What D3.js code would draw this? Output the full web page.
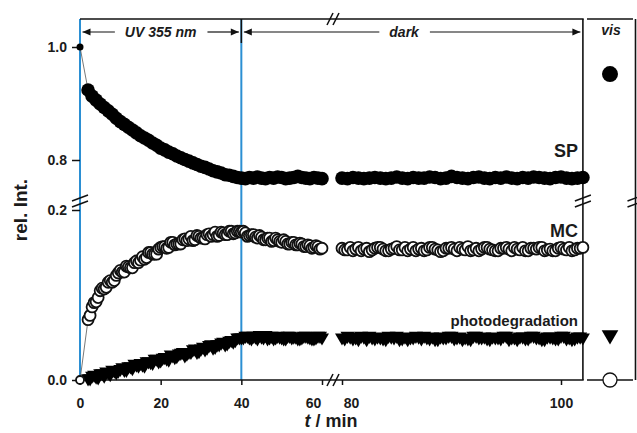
<!DOCTYPE html>
<html>
<head>
<meta charset="utf-8">
<script src="https://cdn.jsdelivr.net/npm/d3@7"></script>
<style>
  body { margin: 0; background: #fff; }
  svg { display: block; }
  text { font-family: "Liberation Sans", Arial, sans-serif; font-weight: bold; fill: #1b1b1b; }
</style>
</head>
<body>
<svg id="chart" width="637" height="433"></svg>
<script>
// time grids (min)
const tUV = [0, 2, 3, 4, 5, 6, 7, 8, 9, 10, 11, 12, 13, 14, 15, 16, 17, 18, 19, 20,
  21, 22, 23, 24, 25, 26, 27, 28, 29, 30, 31, 32, 33, 34, 35, 36, 37, 38, 39, 40];
const tDark1 = [41, 42, 43, 44, 45, 46, 47, 48, 49, 50, 51, 52, 53, 54, 55, 56, 57, 58, 59, 60];
const tDark2 = [80, 80.5, 81, 81.5, 82, 82.5, 83, 83.5, 84, 84.5, 85, 85.5, 86, 86.5, 87, 87.5,
  88, 88.5, 89, 89.5, 90, 90.5, 91, 91.5, 92, 92.5, 93, 93.5, 94, 94.5, 95, 95.5, 96, 96.5,
  97, 97.5, 98, 98.5, 99, 99.5, 100, 100.5, 101, 101.5, 102];
// extra read-outs between the above (MC and photodegradation are sampled denser)
const tUVb = [2.5, 3.5, 4.5, 5.5, 6.5, 7.5, 8.5, 9.5, 10.5, 11.5, 12.5, 13.5, 14.5, 15.5,
  16.5, 17.5, 18.5, 19.5, 20.5, 21.5, 22.5, 23.5, 24.5, 25.5, 26.5, 27.5, 28.5, 29.5,
  30.5, 31.5, 32.5, 33.5, 34.5, 35.5, 36.5, 37.5, 38.5, 39.5];
const tDark1b = [40.5, 41.5, 42.5, 43.5, 44.5, 45.5, 46.5, 47.5, 48.5, 49.5, 50.5, 51.5,
  52.5, 53.5, 54.5, 55.5, 56.5, 57.5, 58.5, 59.5];
const tDark2b = [80.25, 80.75, 81.25, 81.75, 82.25, 82.75, 83.25, 83.75, 84.25, 84.75, 85.25,
  85.75, 86.25, 86.75, 87.25, 87.75, 88.25, 88.75, 89.25, 89.75, 90.25, 90.75, 91.25, 91.75,
  92.25, 92.75, 93.25, 93.75, 94.25, 94.75, 95.25, 95.75, 96.25, 96.75, 97.25, 97.75, 98.25,
  98.75, 99.25, 99.75, 100.25, 100.75, 101.25, 101.75];

// SP (filled circles)
const spUV = [1.000, 0.924, 0.913, 0.906, 0.899, 0.893, 0.887, 0.881, 0.874, 0.868,
  0.863, 0.858, 0.853, 0.848, 0.843, 0.839, 0.835, 0.830, 0.826, 0.821,
  0.818, 0.814, 0.811, 0.807, 0.804, 0.801, 0.798, 0.795, 0.792, 0.789,
  0.787, 0.784, 0.781, 0.779, 0.777, 0.774, 0.773, 0.771, 0.769, 0.768];
const spDark1 = [0.767, 0.769, 0.768, 0.770, 0.768, 0.767, 0.769, 0.768, 0.770, 0.769,
  0.767, 0.768, 0.769, 0.771, 0.769, 0.768, 0.767, 0.769, 0.768, 0.767];
const spDark2 = [0.768, 0.767, 0.769, 0.768, 0.767, 0.768, 0.769, 0.768, 0.767, 0.768,
  0.770, 0.768, 0.767, 0.769, 0.768, 0.768, 0.770, 0.769, 0.767, 0.768,
  0.771, 0.769, 0.768, 0.767, 0.769, 0.770, 0.768, 0.767, 0.769, 0.768,
  0.770, 0.768, 0.767, 0.769, 0.768, 0.770, 0.769, 0.768, 0.767, 0.769,
  0.770, 0.768, 0.767, 0.768, 0.769];

// MC (open circles)
const mcUV = [0.000, 0.071, 0.086, 0.092, 0.105, 0.107, 0.115, 0.115, 0.123, 0.129,
  0.127, 0.133, 0.132, 0.140, 0.141, 0.142, 0.150, 0.148, 0.148, 0.156,
  0.157, 0.156, 0.162, 0.160, 0.160, 0.166, 0.166, 0.164, 0.170, 0.167,
  0.166, 0.172, 0.171, 0.169, 0.174, 0.171, 0.175, 0.172, 0.175, 0.174];
const mcUVb = [0.076, 0.091, 0.097, 0.108, 0.109, 0.117, 0.117, 0.126, 0.127, 0.134,
  0.132, 0.138, 0.138, 0.145, 0.144, 0.150, 0.148, 0.154, 0.157, 0.155,
  0.162, 0.159, 0.160, 0.165, 0.164, 0.169, 0.165, 0.169, 0.167, 0.171,
  0.169, 0.174, 0.170, 0.173, 0.171, 0.175, 0.173, 0.175];
const mcDark1 = [0.173, 0.170, 0.171, 0.167, 0.168, 0.165, 0.167, 0.164, 0.165, 0.162,
  0.163, 0.160, 0.162, 0.159, 0.160, 0.157, 0.158, 0.156, 0.157, 0.155];
const mcDark1b = [0.175, 0.169, 0.171, 0.168, 0.170, 0.165, 0.167, 0.163, 0.167, 0.163,
  0.165, 0.160, 0.162, 0.159, 0.161, 0.157, 0.159, 0.155, 0.158, 0.154];
const mcDark2 = [0.155, 0.153, 0.152, 0.156, 0.154, 0.151, 0.155, 0.156, 0.152, 0.154,
  0.157, 0.153, 0.152, 0.156, 0.154, 0.152, 0.156, 0.154, 0.151, 0.155,
  0.156, 0.152, 0.154, 0.157, 0.153, 0.152, 0.156, 0.154, 0.152, 0.155,
  0.156, 0.152, 0.154, 0.156, 0.152, 0.155, 0.156, 0.152, 0.154, 0.152,
  0.156, 0.153, 0.152, 0.155, 0.156];
const mcDark2b = [0.153, 0.156, 0.154, 0.152, 0.155, 0.153, 0.156, 0.154, 0.152, 0.155,
  0.153, 0.156, 0.154, 0.152, 0.155, 0.153, 0.156, 0.153, 0.152, 0.155,
  0.154, 0.156, 0.153, 0.152, 0.155, 0.154, 0.156, 0.153, 0.152, 0.155,
  0.154, 0.156, 0.153, 0.152, 0.155, 0.154, 0.156, 0.153, 0.152, 0.155,
  0.154, 0.156, 0.153, 0.155];

// photodegradation (down triangles)
const pdUV = [0.000, 0.002, 0.005, 0.004, 0.008, 0.005, 0.009, 0.012, 0.009, 0.013,
  0.012, 0.016, 0.014, 0.018, 0.020, 0.017, 0.022, 0.020, 0.025, 0.023,
  0.027, 0.024, 0.029, 0.028, 0.032, 0.029, 0.033, 0.036, 0.033, 0.037,
  0.036, 0.041, 0.038, 0.042, 0.044, 0.042, 0.046, 0.045, 0.050, 0.050];
const pdUVb = [0.002, 0.006, 0.003, 0.008, 0.010, 0.007, 0.011, 0.011, 0.015, 0.012,
  0.016, 0.019, 0.017, 0.018, 0.022, 0.021, 0.025, 0.022, 0.026, 0.025,
  0.030, 0.027, 0.031, 0.033, 0.031, 0.033, 0.037, 0.034, 0.039, 0.038,
  0.042, 0.039, 0.042, 0.045, 0.043, 0.047, 0.047, 0.050];
const pdDark1 = [0.052, 0.050, 0.052, 0.049, 0.051, 0.053, 0.050, 0.049, 0.052, 0.050,
  0.049, 0.052, 0.051, 0.049, 0.050, 0.052, 0.050, 0.049, 0.052, 0.050];
const pdDark1b = [0.050, 0.052, 0.049, 0.051, 0.053, 0.050, 0.049, 0.052, 0.050, 0.051,
  0.049, 0.052, 0.050, 0.051, 0.049, 0.052, 0.051, 0.049, 0.050, 0.052];
const pdDark2 = [0.050, 0.052, 0.049, 0.048, 0.051, 0.052, 0.049, 0.050, 0.048, 0.051,
  0.052, 0.049, 0.048, 0.050, 0.051, 0.052, 0.049, 0.048, 0.051, 0.050,
  0.052, 0.050, 0.048, 0.049, 0.052, 0.050, 0.051, 0.048, 0.050, 0.049,
  0.052, 0.050, 0.048, 0.051, 0.049, 0.052, 0.050, 0.048, 0.051, 0.049,
  0.052, 0.049, 0.048, 0.051, 0.050];
const pdDark2b = [0.049, 0.051, 0.050, 0.052, 0.048, 0.050, 0.051, 0.049, 0.052, 0.050,
  0.048, 0.051, 0.050, 0.052, 0.049, 0.050, 0.051, 0.048, 0.050, 0.052,
  0.049, 0.051, 0.050, 0.048, 0.052, 0.050, 0.049, 0.051, 0.050, 0.052,
  0.048, 0.050, 0.051, 0.049, 0.052, 0.050, 0.048, 0.051, 0.050, 0.049,
  0.052, 0.050, 0.049, 0.051];

// after "vis" irradiation
const visSP = 0.952, visMC = 0.000, visPD = 0.053;

const xTicksLeft = [0, 20, 40, 60], xTicksRight = [80, 100];
const yTicksTop = [0.8, 1.0], yTicksBottom = [0.0, 0.2];
const phases = [
  {label: "UV 355 nm", from: 0, to: 40},
  {label: "dark", from: 40, to: 102}
];

const svg = d3.select("#chart");
const blue = "#2b8fd3";

// broken x axis: 0-60 and 80-102
const xL = d3.scaleLinear().domain([0, 60]).range([80, 322]);
const xR = d3.scaleLinear().domain([80, 100]).range([342, 561]);
const x = t => t < 70 ? xL(t) : xR(t);
// broken y axis
const yTop = d3.scaleLinear().domain([0.8, 1.0]).range([160, 47]);
const yBot = d3.scaleLinear().domain([0, 0.2]).range([380, 210]);

const plotL = x(0), plotR = x(102), plotT = 19, plotB = yBot(0);
const breakX = (xL(60) + xR(80)) / 2 + 1;
const breakY = 201;

// blue markers for irradiation start/stop
svg.selectAll("line.blue").data([0, 40]).join("line")
  .attr("x1", d => x(d)).attr("x2", d => x(d))
  .attr("y1", plotT).attr("y2", plotB)
  .attr("stroke", blue).attr("stroke-width", 2);

// frame
const frame = svg.append("g").attr("stroke", "#111").attr("stroke-width", 1.6).attr("fill", "none");
frame.append("line").attr("x1", plotL).attr("x2", plotR + 0.8).attr("y1", plotT).attr("y2", plotT);
frame.append("line").attr("x1", plotR).attr("x2", plotR).attr("y1", plotT).attr("y2", plotB);
frame.append("line").attr("x1", plotL).attr("x2", plotR + 0.8).attr("y1", plotB).attr("y2", plotB);

// vis panel
const visL = 587, visR = 633, visX = 610;
frame.append("line").attr("x1", visL).attr("x2", visR).attr("y1", plotT).attr("y2", plotT);
frame.append("line").attr("x1", 635.5).attr("x2", 635.5).attr("y1", plotT).attr("y2", plotB);
frame.append("line").attr("x1", visL).attr("x2", visR).attr("y1", plotB).attr("y2", plotB);

// break marks
const brk = svg.append("g").attr("stroke", "#111").attr("stroke-width", 1.5);
[plotL, plotR, 635.5].forEach(bx => {
  [-3, 3].forEach(o => brk.append("line")
    .attr("x1", bx - 8).attr("y1", breakY + o + 3)
    .attr("x2", bx + 8).attr("y2", breakY + o - 3));
});
[plotT, plotB].forEach(by => {
  [-3, 3].forEach(o => brk.append("line")
    .attr("x1", breakX + o - 3).attr("y1", by + 6)
    .attr("x2", breakX + o + 3).attr("y2", by - 6));
});

// axes
function styleAxis(g) {
  g.select(".domain").remove();
  g.selectAll(".tick line").attr("stroke", "#111").attr("stroke-width", 1.5);
  g.selectAll(".tick text").attr("font-size", 14).attr("font-family", null).attr("fill", "#1b1b1b");
}
const gxL = svg.append("g").attr("transform", `translate(0,${plotB})`)
  .call(d3.axisBottom(xL).tickValues(xTicksLeft).tickSize(5).tickPadding(13)).call(styleAxis);
const gxR = svg.append("g").attr("transform", `translate(0,${plotB})`)
  .call(d3.axisBottom(xR).tickValues(xTicksRight).tickSize(5).tickPadding(13)).call(styleAxis);
gxL.selectAll(".tick text").filter(d => d === 60).attr("dx", -9);
gxR.selectAll(".tick text").filter(d => d === 80).attr("dx", 9);

svg.append("g").attr("transform", `translate(${plotL},0)`)
  .call(d3.axisLeft(yTop).tickValues(yTicksTop).tickFormat(d3.format(".1f")).tickSize(8).tickPadding(5))
  .call(styleAxis);
svg.append("g").attr("transform", `translate(${plotL},0)`)
  .call(d3.axisLeft(yBot).tickValues(yTicksBottom).tickFormat(d3.format(".1f")).tickSize(8).tickPadding(5))
  .call(styleAxis);

// axis titles
svg.append("text").attr("transform", "translate(27,210) rotate(-90)")
  .attr("text-anchor", "middle").attr("font-size", 19).text("rel. Int.");
const xt = svg.append("text").attr("x", 331).attr("y", 427)
  .attr("text-anchor", "middle").attr("font-size", 18);
xt.append("tspan").attr("font-style", "italic").text("t");
xt.append("tspan").text(" / min");

// series
const zip = (ts, vs) => ts.map((t, i) => ({t, v: vs[i]}));
const byT = (a, b) => a.t - b.t;
const series = [
  {name: "pd", y: yBot, segs: [
    zip(tUV, pdUV).concat(zip(tUVb, pdUVb)).sort(byT),
    zip(tDark1, pdDark1).concat(zip(tDark1b, pdDark1b)).sort(byT),
    zip(tDark2, pdDark2).concat(zip(tDark2b, pdDark2b)).sort(byT)]},
  {name: "mc", y: yBot, segs: [
    zip(tUV, mcUV).concat(zip(tUVb, mcUVb)).sort(byT),
    zip(tDark1, mcDark1).concat(zip(tDark1b, mcDark1b)).sort(byT),
    zip(tDark2, mcDark2).concat(zip(tDark2b, mcDark2b)).sort(byT)]},
  {name: "sp", y: yTop, segs: [zip(tUV, spUV), zip(tDark1, spDark1), zip(tDark2, spDark2)]}
];

series.forEach(s => {
  const line = d3.line().x(d => x(d.t)).y(d => s.y(d.v));
  const g = svg.append("g");
  s.segs.forEach(seg => {
    g.append("path").attr("d", line(seg))
      .attr("fill", "none").attr("stroke", "#555").attr("stroke-width", 0.8);
  });
  const pts = s.segs.flat();
  if (s.name === "sp") {
    g.selectAll("circle").data(pts).join("circle")
      .attr("cx", d => x(d.t)).attr("cy", d => s.y(d.v))
      .attr("r", d => d.t === 0 ? 3.5 : 6.8).attr("fill", "#000");
  } else if (s.name === "mc") {
    g.selectAll("circle").data(pts).join("circle")
      .attr("cx", d => x(d.t)).attr("cy", d => s.y(d.v))
      .attr("r", d => d.t === 0 ? 4 : 5.5)
      .attr("fill", "#fff").attr("stroke", "#111").attr("stroke-width", 1.8);
  } else {
    g.selectAll("path.m").data(pts).join("path").attr("class", "m")
      .attr("d", d => d3.symbol(d3.symbolTriangle, d.t === 0 ? 20 : 85)())
      .attr("transform", d => `translate(${x(d.t)},${s.y(d.v)}) rotate(180)`)
      .attr("fill", "#000");
  }
});

// vis points
svg.append("circle").attr("cx", visX).attr("cy", yTop(visSP)).attr("r", 8).attr("fill", "#000");
svg.append("path").attr("d", d3.symbol(d3.symbolTriangle, 120)())
  .attr("transform", `translate(${visX},${yBot(visPD)}) rotate(180)`).attr("fill", "#000");
svg.append("circle").attr("cx", visX).attr("cy", yBot(visMC)).attr("r", 7)
  .attr("fill", "#fff").attr("stroke", "#111").attr("stroke-width", 1.3);

// series labels
svg.append("text").attr("x", 578).attr("y", 157).attr("text-anchor", "end").attr("font-size", 18).text("SP");
svg.append("text").attr("x", 578).attr("y", 237).attr("text-anchor", "end").attr("font-size", 18).text("MC");
svg.append("text").attr("x", 578).attr("y", 326).attr("text-anchor", "end").attr("font-size", 15).text("photodegradation");
svg.append("text").attr("x", visX + 1).attr("y", 35).attr("text-anchor", "middle")
  .attr("font-size", 14).attr("font-style", "italic").text("vis");

// phase arrows
const ay = 32;
const arrowHead = (tip, dir) => `M${tip},${ay}L${tip - dir * 8},${ay - 3.5}L${tip - dir * 8},${ay + 3.5}Z`;
svg.append("line").attr("x1", x(40)).attr("x2", x(40)).attr("y1", plotT).attr("y2", 43)
  .attr("stroke", "#111").attr("stroke-width", 1.5);
phases.forEach((p, i) => {
  const a = x(p.from) + 2.5, b = x(p.to) - 2.5;
  const cx = (a + b) / 2 - (i === 1 ? 8 : 0);
  const txt = svg.append("text").attr("x", cx).attr("y", 37).attr("text-anchor", "middle")
    .attr("font-size", 14).attr("font-style", "italic").text(p.label);
  const w = txt.node().getComputedTextLength();
  const g = svg.append("g").attr("stroke", "#111").attr("stroke-width", 1.2);
  g.append("line").attr("x1", a).attr("x2", cx - w / 2 - 10).attr("y1", ay).attr("y2", ay);
  g.append("line").attr("x1", cx + w / 2 + 11).attr("x2", b).attr("y1", ay).attr("y2", ay);
  svg.append("path").attr("d", arrowHead(a, -1)).attr("fill", "#111");
  svg.append("path").attr("d", arrowHead(b, 1)).attr("fill", "#111");
});
</script>
</body>
</html>
